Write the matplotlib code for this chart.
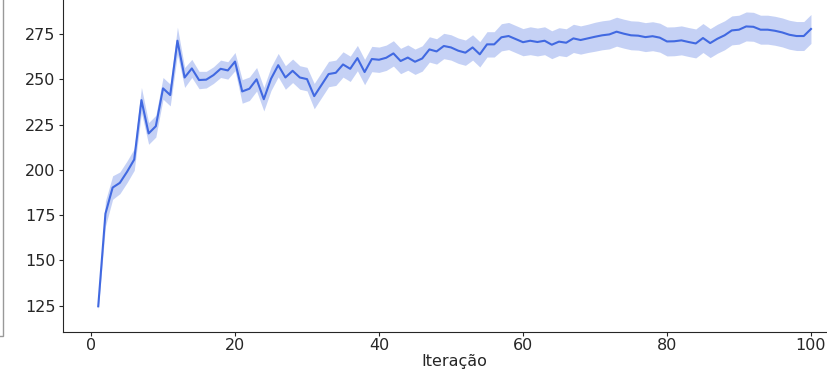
import numpy as np
import matplotlib
matplotlib.use("Agg")
import matplotlib.pyplot as plt
from matplotlib.patches import Rectangle

# mean reward per iteration
iteracao = list(range(1, 101))
media = [
    124.6, 175.8, 190.2, 192.8, 198.9, 205.7, 238.5, 220.1, 224.1, 245.0,
    241.3, 271.3, 251.0, 256.0, 249.6, 249.8, 252.3, 255.8, 254.9, 259.8,
    243.3, 244.8, 250.0, 239.0, 250.3, 257.8, 251.0, 254.7, 251.0, 250.1,
    240.7, 246.8, 252.9, 253.6, 258.2, 255.8, 261.7, 254.0, 261.2, 260.8,
    261.9, 264.3, 260.1, 262.0, 259.7, 261.5, 266.5, 265.4, 268.4, 267.6,
    265.8, 264.7, 267.6, 263.8, 269.3, 269.3, 273.2, 273.9, 272.2, 270.5,
    271.3, 270.6, 271.3, 269.1, 270.8, 270.2, 272.6, 271.7, 272.6, 273.5,
    274.3, 274.8, 276.3, 275.2, 274.3, 274.1, 273.3, 273.8, 273.0, 270.9,
    271.0, 271.5, 270.6, 269.8, 272.8, 270.0, 272.4, 274.3, 277.0, 277.4,
    279.2, 279.0, 277.4, 277.4, 276.8, 275.9, 274.6, 273.9, 273.9, 277.8,
]
# half width of the shaded confidence band
meia_banda = [
    2.0, 7.0, 6.5, 6.0, 6.0, 6.0, 7.0, 6.0, 6.0, 6.0,
    6.0, 7.5, 5.5, 5.0, 4.8, 4.6, 4.6, 4.8, 4.8, 5.0,
    6.5, 6.5, 6.5, 6.5, 6.5, 6.5, 6.5, 6.5, 6.5, 6.5,
    7.0, 7.0, 7.0, 7.0, 7.0, 7.0, 7.0, 7.0, 7.0, 7.0,
    7.0, 7.0, 7.0, 7.0, 7.0, 7.0, 7.0, 7.0, 7.0, 7.0,
    7.0, 7.0, 7.0, 7.0, 7.0, 7.0, 7.5, 7.5, 7.5, 7.5,
    7.7, 7.7, 7.7, 7.7, 7.7, 7.7, 7.8, 7.8, 7.8, 8.0,
    8.0, 8.0, 8.0, 8.0, 8.0, 8.0, 8.0, 8.0, 8.0, 8.0,
    8.0, 8.0, 8.0, 8.0, 8.0, 8.0, 8.0, 8.0, 8.0, 8.0,
    8.0, 8.0, 8.0, 8.0, 8.0, 8.0, 8.0, 8.0, 8.0, 8.0,
]

x = np.array(iteracao)
y = np.array(media)
h = np.array(meia_banda)

fig = plt.figure(figsize=(8.28, 3.74), dpi=100)
# axes runs past the right and top edges, the reference is a crop
ax = fig.add_axes([62.6 / 828, 42.5 / 374, 784 / 828, 331.5 / 374])

cor = "royalblue"
ax.fill_between(x, y - h, y + h, color=cor, alpha=0.3, linewidth=0)
ax.plot(x, y, color=cor, linewidth=1.5)

ax.set_xlim(-3.95, 104.95)
ax.set_ylim(110.7, 293.8)
ax.set_xticks([0, 20, 40, 60, 80, 100])
ax.set_yticks([125, 150, 175, 200, 225, 250, 275])
ax.tick_params(labelsize=11.5, length=2.6, pad=2.4, colors="0.15")
ax.set_xlabel("Iteração", fontsize=11.5, labelpad=0.5, color="0.15")
ax.spines["top"].set_visible(False)
ax.spines["right"].set_visible(False)
for s in ("left", "bottom"):
    ax.spines[s].set_color("0.15")

# edge of a neighbouring frame cut off at the left
fig.patches.append(Rectangle((-0.05, 38 / 374), 0.05 + 2.5 / 828, 1.0,
                             transform=fig.transFigure, fill=False,
                             edgecolor="0.6", linewidth=1.0))

fig.savefig("out.png", dpi=100)
